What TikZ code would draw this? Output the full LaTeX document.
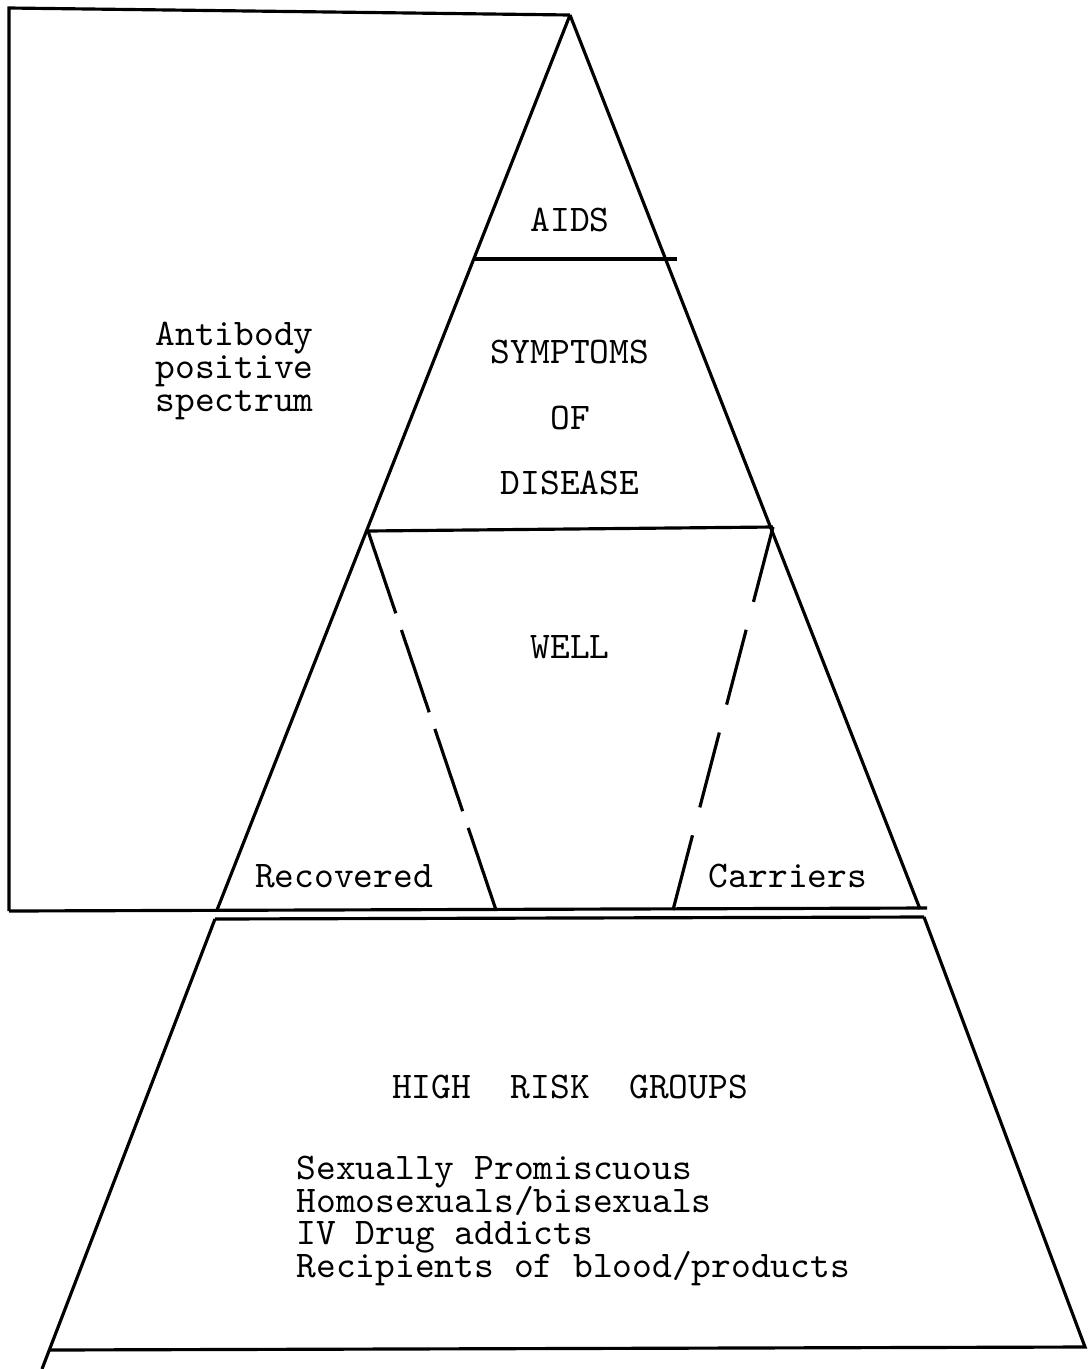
\documentclass[tikz,border=0pt]{standalone}
\usepackage{fontspec}
\newcommand{\typedfont}{\ttfamily\fontsize{10.7}{9.3}\selectfont\setlength{\lineskiplimit}{-20pt}}
\begin{document}
\begin{tikzpicture}[x=0.01cm,y=-0.01cm,
        outline/.style={line width=0.9pt,black},
        leftsplit/.style={line width=0.9pt,dash pattern=on 24.7pt off 5pt},
        rightsplit/.style={line width=0.9pt,dash pattern=on 22pt off 8.2pt},
        txt/.style={font=\typedfont,inner sep=0pt}
    ]
        \useasboundingbox (0,0) rectangle (1091,1369);

        % Define the corners
        \coordinate (apex) at (570,15);
        \coordinate (boxTL) at (9,8);
        \coordinate (boxBL) at (9,911);
        \coordinate (baseL) at (217,910);
        \coordinate (baseR) at (920,909);
        \coordinate (baseEnd) at (927,908);
        \coordinate (lowL) at (215,919);
        \coordinate (lowR) at (924,917);
        \coordinate (footL) at (50,1350);
        \coordinate (footTail) at (42,1369);
        \coordinate (footR) at (1085,1347);
        \coordinate (aidsL) at (475,259);
        \coordinate (aidsR) at (677,259);
        \coordinate (sympL) at (368,531);
        \coordinate (sympR) at (773,527);
        \coordinate (wellL) at (496,910);
        \coordinate (wellR) at (673,910);

        % Antibody box and the upper triangle
        \draw[outline] (boxBL) -- (boxTL) -- (apex);
        \draw[outline] (boxBL) -- (baseEnd);
        \draw[outline] (apex) -- (baseL);
        \draw[outline] (apex) -- (baseR);
        \draw[outline] (aidsL) -- (aidsR);
        \draw[outline] (sympL) -- (sympR);

        % Dashed split of the well band
        \draw[leftsplit] (sympL) -- (wellL);
        \draw[rightsplit] (sympR) -- (wellR);

        % Lower trapezoid
        \draw[outline] (lowL) -- (lowR);
        \draw[outline] (lowL) -- (footTail);
        \draw[outline] (lowR) -- (footR) -- (footL);

        % Labels
        \node[txt] (aids) at (570,220) {AIDS};
        \node[txt] (symptoms) at (570,352) {SYMPTOMS};
        \node[txt] (of) at (570,418) {OF};
        \node[txt] (disease) at (570,483) {DISEASE};
        \node[txt] (well) at (570,647) {WELL};
        \node[txt] (recovered) at (344,876) {Recovered};
        \node[txt] (carriers) at (788,876) {Carriers};
        \node[txt,anchor=west,align=left] (antibody) at (155,371) {Antibody\\positive\\spectrum};
        \node[txt] (risk) at (570,1087) {HIGH\ \ RISK\ \ GROUPS};
        \node[txt,anchor=west,align=left] (groups) at (296,1221) {Sexually Promiscuous\\Homosexuals/bisexuals\\IV Drug addicts\\Recipients of blood/products};
    \end{tikzpicture}
\end{document}
